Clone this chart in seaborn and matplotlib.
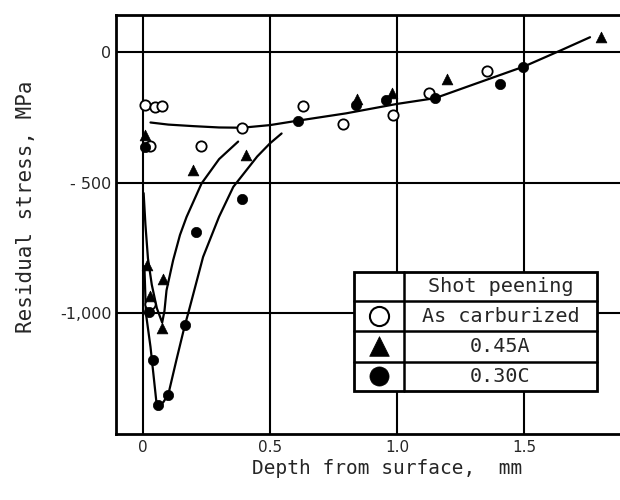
import matplotlib
matplotlib.use("Agg")
import matplotlib.pyplot as plt
import seaborn as sns
import pandas as pd
from matplotlib.patches import Rectangle

# ---------------- data ----------------
carb_x = [0.008, 0.047, 0.074, 0.028, 0.030, 0.228, 0.391, 0.629, 0.786, 0.984, 1.126, 1.354]
carb_y = [-203, -211, -207, -359, -963, -359, -292, -207, -276, -241, -156, -72]

a45_x = [0.008, 0.017, 0.030, 0.080, 0.076, 0.198, 0.404, 0.841, 0.982, 1.198, 1.802]
a45_y = [-318, -816, -935, -870, -1055, -452, -395, -181, -158, -103, 55]

c30_x = [0.008, 0.025, 0.041, 0.060, 0.100, 0.165, 0.211, 0.392, 0.609, 0.837, 0.957, 1.151, 1.406, 1.497]
c30_y = [-363, -995, -1177, -1350, -1310, -1046, -688, -563, -263, -203, -184, -177, -124, -56]

# fitted curves as drawn in the reference
carb_curve_x = [0.03, 0.10, 0.20, 0.30, 0.39, 0.50, 0.61, 0.80, 1.00, 1.15, 1.30, 1.50, 1.65, 1.76]
carb_curve_y = [-270, -278, -284, -289, -290, -280, -263, -235, -199, -177, -125, -56, 8, 56]

a45_curve_x = [0.003, 0.010, 0.020, 0.035, 0.055, 0.076, 0.085, 0.093, 0.119, 0.146, 0.172, 0.231, 0.300, 0.375]
a45_curve_y = [-540, -660, -790, -890, -980, -1035, -990, -912, -797, -700, -631, -503, -410, -343]

c30_curve_x = [0.006, 0.012, 0.030, 0.054, 0.060, 0.080, 0.100, 0.132, 0.165, 0.178, 0.237, 0.300, 0.356, 0.450, 0.500, 0.546]
c30_curve_y = [-820, -1000, -1128, -1346, -1352, -1340, -1310, -1178, -1046, -1001, -784, -630, -516, -400, -350, -312]

x_ticks = [0, 0.5, 1.0, 1.5]
x_tick_labels = ["0", "0.5", "1.0", "1.5"]
y_ticks = [0, -500, -1000]
y_tick_labels = ["0", "- 500", "-1,000"]

legend_title = "Shot peening"
series_names = ["As carburized", "0.45A", "0.30C"]

# ---------------- figure ----------------
sns.set_theme(style="white")
plt.rcParams["font.family"] = ["DejaVu Sans"]

fig = plt.figure(figsize=(6.2, 5.0), dpi=100)
ax = fig.add_axes([0.1866, 0.132, 0.8134, 0.838])

XMIN, XMAX = -0.107, 1.878
YMIN, YMAX = -1461, 141
ax.set_xlim(XMIN, XMAX)
ax.set_ylim(YMIN, YMAX)

# grid
for xv in x_ticks:
    ax.axvline(xv, color="black", lw=1.5, zorder=1)
for yv in y_ticks:
    ax.axhline(yv, color="black", lw=1.5, zorder=1)

# curves
for cx, cy in [(carb_curve_x, carb_curve_y), (a45_curve_x, a45_curve_y), (c30_curve_x, c30_curve_y)]:
    sns.lineplot(x=cx, y=cy, sort=False, estimator=None, color="black", lw=1.6, ax=ax, zorder=3)

# points
sns.scatterplot(x=carb_x, y=carb_y, marker="o", s=55, color="white", edgecolor="black",
                linewidth=1.3, ax=ax, zorder=4)
sns.scatterplot(x=a45_x, y=a45_y, marker="^", s=60, color="black", edgecolor="black",
                linewidth=0.5, ax=ax, zorder=4)
sns.scatterplot(x=c30_x, y=c30_y, marker="o", s=55, color="black", edgecolor="black",
                linewidth=0.5, ax=ax, zorder=4)

# spines / ticks
for side in ["left", "bottom", "top"]:
    ax.spines[side].set_visible(True)
    ax.spines[side].set_color("black")
    ax.spines[side].set_linewidth(2.0)
ax.spines["right"].set_visible(False)

ax.set_xticks(x_ticks)
ax.set_xticklabels(x_tick_labels, fontsize=11)
ax.set_yticks(y_ticks)
ax.set_yticklabels(y_tick_labels, fontsize=11.5)
ax.tick_params(axis="both", length=0)
ax.tick_params(axis="x", pad=4)
ax.tick_params(axis="y", pad=3)

ax.set_xlabel("Depth from surface,  mm", fontsize=14, family="DejaVu Sans Mono")
ax.set_ylabel("Residual stress, MPa", fontsize=15, family="DejaVu Sans Mono")
ax.xaxis.set_label_coords(0.538, -0.060)
ax.yaxis.set_label_coords(-0.158, 0.542)

# legend table (data coordinates of the box)
LX0, LX1, LXD = 0.831, 1.787, 1.028
row_edges = [-843, -953, -1068, -1184, -1298]
ax.add_patch(Rectangle((LX0, row_edges[-1]), LX1 - LX0, row_edges[0] - row_edges[-1],
                       facecolor="white", edgecolor="black", lw=2.0, zorder=6))
for ry in row_edges[1:-1]:
    ax.plot([LX0, LX1], [ry, ry], color="black", lw=1.8, zorder=7)
ax.plot([LXD, LXD], [row_edges[0], row_edges[-1]], color="black", lw=1.8, zorder=7)

mx = 0.929
tx = (LXD + LX1) / 2
labels = [legend_title] + series_names
for i, lab in enumerate(labels):
    yc = (row_edges[i] + row_edges[i + 1]) / 2
    ax.text(tx, yc, lab, ha="center", va="center", fontsize=14.5,
            family="DejaVu Sans Mono", zorder=8)

leg_styles = [
    dict(marker="o", s=190, color="white", edgecolor="black", linewidth=1.5),
    dict(marker="^", s=200, color="black", edgecolor="black", linewidth=0.5),
    dict(marker="o", s=190, color="black", edgecolor="black", linewidth=0.5),
]
for i, st in enumerate(leg_styles):
    yc = (row_edges[i + 1] + row_edges[i + 2]) / 2
    sns.scatterplot(x=[mx], y=[yc], ax=ax, zorder=8, **st)

fig.savefig("out.png", dpi=100, facecolor="white")
